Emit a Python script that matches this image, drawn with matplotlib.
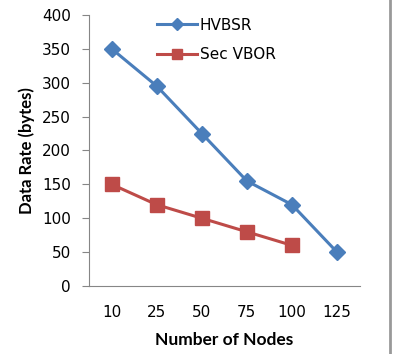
import matplotlib.pyplot as plt
from matplotlib.lines import Line2D

nodes = ['10', '25', '50', '75', '100', '125']
hvbsr = [350, 295, 225, 155, 120, 50]
sec_vbor = [150, 120, 100, 80, 60]

plt.rcParams['font.family'] = ['DejaVu Sans']

fig = plt.figure(figsize=(3.96, 3.54), dpi=100)
ax = fig.add_axes([0.225, 0.192, 0.683, 0.766])

x = list(range(len(nodes)))
ax.plot(x, hvbsr, color='#4a7ebb', lw=2.2, marker='D', ms=8, label='HVBSR')
ax.plot(x[:len(sec_vbor)], sec_vbor, color='#be4b48', lw=2.2, marker='s', ms=9.5,
        label='Sec VBOR')

ax.set_xlim(-0.5, len(nodes) - 0.5)
ax.set_ylim(0, 400)
ax.set_yticks(range(0, 401, 50))
ax.set_xticks(x)
ax.set_xticklabels(nodes)

for s in ['top', 'right']:
    ax.spines[s].set_visible(False)
ax.spines['left'].set_color('#868686')
ax.spines['bottom'].set_color('#868686')
ax.tick_params(axis='y', colors='#868686', labelcolor='black', labelsize=11,
               length=5, pad=8)
ax.tick_params(axis='x', length=0, labelsize=11, pad=14)

ax.set_xlabel('Number of Nodes', fontsize=12.5, fontweight='bold', labelpad=8,
              family='Lato')
ax.set_ylabel('Data Rate (bytes)', fontsize=12, fontweight='bold', labelpad=5,
              family='Lato')

ax.legend(loc='upper left', bbox_to_anchor=(0.2, 1.04), frameon=False,
          fontsize=11, handlelength=2.65, labelspacing=0.95, handletextpad=0.15,
          markerscale=0.75)

# grey frame edge on the right
fig.add_artist(Line2D([0.985, 0.985], [0, 1], color='#999999', lw=2,
                      transform=fig.transFigure))

plt.savefig('out.png', dpi=100)
plt.close(fig)
